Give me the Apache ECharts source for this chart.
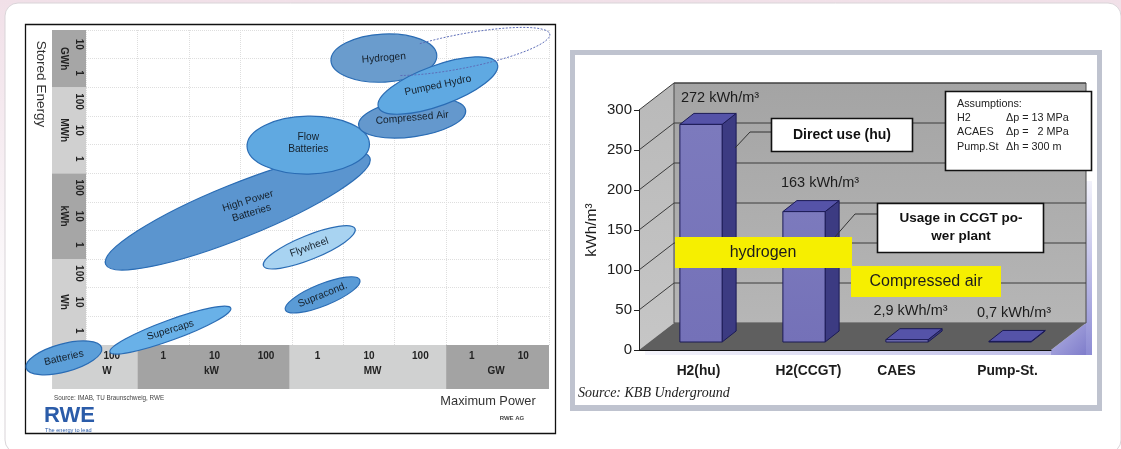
<!DOCTYPE html>
<html>
<head>
<meta charset="utf-8">
<style>
  html, body { margin: 0; padding: 0; background: linear-gradient(#f1e0e8, #fbf8fa 60%, #ffffff); }
  #chart { width: 1121px; height: 449px; }
</style>
<script src="https://cdn.jsdelivr.net/npm/echarts@6/dist/echarts.min.js"></script>
</head>
<body>
<div id="chart"></div>
<script>
const FONT = '"Liberation Sans", Arial, sans-serif';

// left panel: power / energy map, positions in decade cells from bottom left
const powerTicks = ['100', '1', '10', '100', '1', '10', '100', '1', '10'];
const energyTicks = ['1', '10', '100', '1', '10', '100', '1', '10', '100', '1', '10'];
const powerBandNames = ['W', 'kW', 'MW', 'GW'];
const powerBandFrom = [-0.66, 1, 3.96, 7];
const powerBandTo = [1, 3.96, 7, 9];
const powerBandLabelAt = [0.41, 2.44, 5.57, 7.97];
const energyBandNames = ['Wh', 'kWh', 'MWh', 'GWh'];
const energyBandFrom = [0, 3, 6, 9];
const energyBandTo = [3, 6, 9, 11];

const storageNames = ['High Power\nBatteries', 'Flow\nBatteries', 'Hydrogen', 'Compressed Air', 'Pumped Hydro',
  'Flywheel', 'Supracond.', 'Supercaps', 'Batteries'];
const storagePower = [2.95, 4.32, 5.79, 6.34, 6.84, 4.34, 4.60, 1.64, -0.43];
const storageEnergy = [4.68, 6.98, 10.02, 7.93, 9.06, 3.41, 1.75, 0.52, -0.45];
const storageLength = [2.77, 1.19, 1.03, 1.05, 1.23, 0.96, 0.78, 1.25, 0.76];
const storageThick = [0.94, 1.01, 0.84, 0.66, 0.70, 0.42, 0.38, 0.35, 0.49];
const storageTilt = [22, 1, 3, 8, 20, 22, 22, 20, 15];
const storageTextTilt = [17, 0, 5, 5, 12, 20, 22, 17, 13];
const storageFill = ['#5b95cf', '#60a9e1', '#6a9ccd', '#6498cd', '#5fa9e2', '#a8d3f1', '#5a9bd6', '#69b1e8', '#5c9fd9'];

// right panel: volumetric energy density
const usageCategories = ['H2(hu)', 'H2(CCGT)', 'CAES', 'Pump-St.'];
const densityValues = [272, 163, 2.9, 0.7];
const densityLabels = ['272 kWh/m³', '163 kWh/m³', '2,9 kWh/m³', '0,7 kWh/m³'];
const densityTicks = [0, 50, 100, 150, 200, 250, 300];

// pseudo 3D look of the right panel, in pixels
const WALL_DX = 35, WALL_DY = -27;
const BAR_DX = 14, BAR_DY = -11, FLOOR_DX = 10.5, FLOOR_DY = -8;
const LABEL_SHIFT = [[19, -26], [16, -29], [3.5, -29], [4, -28]];
const CATEGORY_PAD = [16, 30, 0, 16];
// the High Power text sits up and right of its ellipse centre
const STORAGE_TEXT_SHIFT = [[12, -4], [0, -2], [0, 0], [0, 0], [0, 0], [0, 0], [0, 0], [0, 0], [0, 0]];

const chart = echarts.init(document.getElementById('chart'));

function poly(points, fill, stroke, lineWidth) {
  return { type: 'polygon', shape: { points }, style: { fill, stroke: stroke || 'none', lineWidth: lineWidth || 0 } };
}

function vGrad(top, bottom) {
  return new echarts.graphic.LinearGradient(0, 0, 0, 1, [
    { offset: 0, color: top }, { offset: 1, color: bottom }
  ]);
}

// grey scale strips under and left of the map
function renderBands(params, api) {
  const sx = api.size([1, 1]);
  const children = [];
  const cell = (x0, y0, x1, y1, fill) => {
    const a = api.coord([x0, y1]);
    const b = api.coord([x1, y0]);
    children.push({ type: 'rect', shape: { x: a[0], y: a[1], width: b[0] - a[0], height: b[1] - a[1] }, style: { fill } });
  };
  const h = -44 / sx[1];
  powerBandNames.forEach((n, i) => {
    cell(powerBandFrom[i], h, powerBandTo[i], 0, i % 2 ? '#a3a3a3' : '#d0d1d1');
    const p = api.coord([powerBandLabelAt[i], 0]);
    children.push({ type: 'text', style: { x: p[0], y: p[1] + 26, text: n, font: 'bold 10px ' + FONT, fill: '#222', align: 'center', verticalAlign: 'middle' } });
  });
  energyBandNames.forEach((n, i) => {
    const left = -34 / sx[0];
    cell(left, energyBandFrom[i], 0, energyBandTo[i], i % 2 ? '#a6a6a6' : '#d0d0d0');
    const p = api.coord([0, (energyBandFrom[i] + energyBandTo[i]) / 2]);
    children.push({ type: 'text', rotation: -Math.PI / 2, x: p[0] - 22, y: p[1], style: { x: 0, y: 0, text: n, font: 'bold 10px ' + FONT, fill: '#222', align: 'center', verticalAlign: 'middle' } });
  });
  return { type: 'group', children };
}

function renderStorage(params, api) {
  const c = api.coord([api.value(0), api.value(1)]);
  const size = api.size([1, 1]);
  const i = params.dataIndex;
  return {
    type: 'group',
    children: [
      {
        type: 'ellipse',
        x: c[0], y: c[1],
        rotation: storageTilt[i] * Math.PI / 180,
        shape: { cx: 0, cy: 0, rx: api.value(2) * size[0], ry: api.value(3) * size[1] },
        style: { fill: storageFill[i], stroke: '#2a6cb4', lineWidth: 1.2 }
      },
      {
        type: 'text',
        x: c[0] + STORAGE_TEXT_SHIFT[i][0], y: c[1] + STORAGE_TEXT_SHIFT[i][1],
        rotation: storageTextTilt[i] * Math.PI / 180,
        style: { x: 0, y: 0, text: storageNames[i], font: '10.2px ' + FONT, fill: '#15202b', align: 'center', verticalAlign: 'middle', lineHeight: 12.5 }
      }
    ]
  };
}

// the dashed outline that runs out from Hydrogen to the top right corner
function renderDashedReach(params, api) {
  const c = api.coord([7.28, 10.25]);
  const tilt = -11 * Math.PI / 180;
  const pts = [];
  for (let a = -115; a <= 135; a += 5) {
    const t = a * Math.PI / 180;
    const ex = 91 * Math.cos(t), ey = 17 * Math.sin(t);
    pts.push([c[0] + ex * Math.cos(tilt) - ey * Math.sin(tilt), c[1] + ex * Math.sin(tilt) + ey * Math.cos(tilt)]);
  }
  return { type: 'polyline', shape: { points: pts }, style: { stroke: '#5d6db8', lineWidth: 1, lineDash: [2, 1.5], fill: 'none' } };
}

// side wall, back wall, floor and the lilac rim behind them
function renderWalls(params, api) {
  const g = params.coordSys;
  const left = g.x, right = g.x + g.width, top = g.y, bottom = g.y + g.height;
  const children = [
    poly([[left + 6, bottom + 1], [right + WALL_DX + 6, bottom + 1], [right + WALL_DX + 6, bottom + 5], [left + 6, bottom + 5]],
      new echarts.graphic.LinearGradient(0, 0, 1, 0, [{ offset: 0, color: '#f4f4fb' }, { offset: 1, color: '#b9b8e6' }])),
    poly([[right + WALL_DX, top + WALL_DY + 98], [right + WALL_DX + 6, top + WALL_DY + 98], [right + WALL_DX + 6, bottom + 5], [right + WALL_DX, bottom + 5]],
      vGrad('#f2f2fb', '#8d8cd4')),
    poly([[right, bottom], [right + WALL_DX, bottom + WALL_DY], [right + WALL_DX, bottom + 5], [right, bottom + 5]],
      new echarts.graphic.LinearGradient(0, 0, 1, 1, [{ offset: 0, color: '#b4b3e3' }, { offset: 1, color: '#7f7dcb' }])),
    poly([[left, top], [left + WALL_DX, top + WALL_DY], [left + WALL_DX, bottom + WALL_DY], [left, bottom]], vGrad('#b9b9b9', '#c6c6c6')),
    poly([[left + WALL_DX, top + WALL_DY], [right + WALL_DX, top + WALL_DY], [right + WALL_DX, bottom + WALL_DY], [left + WALL_DX, bottom + WALL_DY]],
      vGrad('#a4a4a4', '#b6b6b6'), '#4a4a4a', 1),
    poly([[left, bottom], [left + WALL_DX, bottom + WALL_DY], [right + WALL_DX, bottom + WALL_DY], [right, bottom]], '#5f5f5f')
  ];
  densityTicks.forEach(v => {
    const y = api.coord([0, v])[1];
    const line = points => ({ type: 'polyline', shape: { points }, style: { stroke: '#3c3c3c', lineWidth: 1, fill: 'none' } });
    if (v > 0) children.push(line([[left, y], [left + WALL_DX, y + WALL_DY], [right + WALL_DX, y + WALL_DY]]));
  });
  return { type: 'group', children };
}

function renderBar(params, api) {
  const i = params.dataIndex;
  const c = api.coord([api.value(0), api.value(1)]);
  const base = api.coord([api.value(0), 0]);
  const half = api.size([1, 0])[0] * 0.205;
  const l = c[0] - half + FLOOR_DX, r = c[0] + half + FLOOR_DX;
  const t = c[1] + FLOOR_DY, b = base[1] + FLOOR_DY;
  const edge = '#1b1a55';
  return {
    type: 'group',
    children: [
      poly([[r, t], [r + BAR_DX, t + BAR_DY], [r + BAR_DX, b + BAR_DY], [r, b]], '#3c3b82', edge, 1),
      poly([[l, t], [r, t], [r + BAR_DX, t + BAR_DY], [l + BAR_DX, t + BAR_DY]], '#5553a8', edge, 1),
      poly([[l, t], [r, t], [r, b], [l, b]], vGrad('#7c7abd', '#7471b8'), edge, 1),
      {
        type: 'text',
        style: {
          x: (l + r) / 2 + LABEL_SHIFT[i][0], y: t + LABEL_SHIFT[i][1], text: densityLabels[i],
          font: '14.5px ' + FONT, fill: '#1c1c1c', align: 'center', verticalAlign: 'middle'
        }
      }
    ]
  };
}

// boxes and captions that belong to the pictures, not to any data series
function box(x, y, w, h, fill, stroke, lineWidth) {
  return { type: 'rect', z: 100, shape: { x, y, width: w, height: h }, style: { fill, stroke: stroke || 'none', lineWidth: lineWidth || 0 } };
}
function label(x, y, text, font, fill, align, rotation) {
  return {
    type: 'text', z: 101, x, y, rotation: rotation || 0,
    style: { x: 0, y: 0, text, font, fill, align: align || 'left', verticalAlign: 'middle' }
  };
}
function leader(points) {
  return { type: 'polyline', z: 99, shape: { points }, style: { stroke: '#333', lineWidth: 1, fill: 'none' } };
}

const frames = [
  { type: 'rect', z: -10, shape: { x: 5, y: 3, width: 1116, height: 450, r: 13 }, style: { fill: '#fff', stroke: '#d9d4d8', lineWidth: 1 } },
  { type: 'rect', z: -9, shape: { x: 25.5, y: 24.5, width: 530, height: 409 }, style: { fill: '#fff', stroke: '#111', lineWidth: 1.3 } },
  { type: 'rect', z: -9, shape: { x: 570, y: 50, width: 532, height: 361 }, style: { fill: '#bfc3cf' } },
  { type: 'rect', z: -8, shape: { x: 575, y: 55, width: 522, height: 350 }, style: { fill: '#fff' } }
];

const captions = [
  label(41, 84, 'Stored Energy', '13.5px ' + FONT, '#333', 'center', -Math.PI / 2),
  label(488, 401, 'Maximum Power', '12.8px ' + FONT, '#333', 'center'),
  label(54, 398, 'Source: IMAB, TU Braunschweig, RWE', '6.3px ' + FONT, '#444'),
  label(512, 418, 'RWE AG', 'bold 6px ' + FONT, '#444', 'center'),
  label(44, 416, 'RWE', 'bold 22px ' + FONT, '#2b5ca9'),
  label(45, 430, 'The energy to lead', '5.6px ' + FONT, '#2b5ca9'),

  label(592, 230, 'kWh/m³', '15.5px ' + FONT, '#1c1c1c', 'center', Math.PI / 2),
  label(578, 393, 'Source: KBB Underground', 'italic 14px "Liberation Serif", serif', '#222'),

  leader([[735, 148], [750, 132], [771, 132]]),
  box(771.5, 118.5, 141, 33, '#fff', '#111', 1.6),
  label(842, 135, 'Direct use (hu)', 'bold 14px ' + FONT, '#111', 'center'),

  leader([[827, 246], [855, 214], [877, 214]]),
  box(877.5, 203.5, 166, 49, '#fff', '#111', 1.6),
  label(961, 218, 'Usage in CCGT po-', 'bold 13.5px ' + FONT, '#111', 'center'),
  label(961, 236, 'wer plant', 'bold 13.5px ' + FONT, '#111', 'center'),

  box(945.5, 91.5, 146, 79, '#fff', '#111', 1.6),
  label(957, 104, 'Assumptions:', '10.8px ' + FONT, '#222'),
  label(957, 118, 'H2', '10.8px ' + FONT, '#222'),
  label(957, 132, 'ACAES', '10.8px ' + FONT, '#222'),
  label(957, 147, 'Pump.St', '10.8px ' + FONT, '#222'),
  label(1006, 118, 'Δp = 13 MPa', '10.8px ' + FONT, '#222'),
  label(1006, 132, 'Δp =   2 MPa', '10.8px ' + FONT, '#222'),
  label(1006, 147, 'Δh = 300 m', '10.8px ' + FONT, '#222'),

  box(675, 237, 177, 31, '#f6ef00'),
  label(763, 253, 'hydrogen', '16px ' + FONT, '#1c1c1c', 'center'),
  box(851, 266, 150, 31, '#f6ef00'),
  label(926, 282, 'Compressed air', '16px ' + FONT, '#1c1c1c', 'center')
];

const storageData = storageNames.map((n, i) => [storagePower[i], storageEnergy[i], storageLength[i], storageThick[i]]);
const gridLine = { show: true, lineStyle: { color: '#dedede', type: 'dotted', width: 1 } };
const tickLabel = { color: '#222', fontFamily: FONT, fontWeight: 'bold', fontSize: 10 };

const option = {
  animation: false,
  backgroundColor: 'transparent',
  graphic: { elements: frames.concat(captions) },
  grid: [
    { left: 86, top: 30, width: 463, height: 315 },
    { left: 639, top: 110, width: 412, height: 240 }
  ],
  xAxis: [
    {
      gridIndex: 0, type: 'category', data: powerTicks, position: 'bottom', z: 3,
      axisLine: { show: false }, axisTick: { show: false },
      axisLabel: Object.assign({ margin: 6, interval: 0 }, tickLabel)
    },
    {
      gridIndex: 0, type: 'value', min: 0, max: 9, interval: 1, position: 'bottom',
      axisLine: { show: false }, axisTick: { show: false }, axisLabel: { show: false }, splitLine: gridLine
    },
    {
      gridIndex: 1, type: 'category', z: 3,
      data: usageCategories.map((value, i) => ({ value, textStyle: { padding: [0, 0, 0, CATEGORY_PAD[i]] } })),
      axisLine: { lineStyle: { color: '#111', width: 1 } },
      axisTick: { length: 5, lineStyle: { color: '#333' } },
      axisLabel: { margin: 14, fontFamily: FONT, fontWeight: 'bold', fontSize: 13.8, color: '#1c1c1c', interval: 0 }
    }
  ],
  yAxis: [
    {
      gridIndex: 0, type: 'category', data: energyTicks, position: 'left', z: 3,
      axisLine: { show: false }, axisTick: { show: false },
      axisLabel: Object.assign({ margin: 7, rotate: -90, interval: 0, align: 'center', verticalAlign: 'middle' }, tickLabel)
    },
    {
      gridIndex: 0, type: 'value', min: 0, max: 11, interval: 1, position: 'left',
      axisLine: { show: false }, axisTick: { show: false }, axisLabel: { show: false }, splitLine: gridLine
    },
    {
      gridIndex: 1, type: 'value', min: 0, max: 300, interval: 50, z: 3,
      axisLine: { show: true, lineStyle: { color: '#222', width: 1 } },
      axisTick: { show: true, length: 5, lineStyle: { color: '#222' } },
      axisLabel: { margin: 7, fontFamily: FONT, fontSize: 15, color: '#1c1c1c' },
      splitLine: { show: false }
    }
  ],
  series: [
    { type: 'custom', xAxisIndex: 1, yAxisIndex: 1, z: 1, silent: true, renderItem: renderBands, data: [[0, 0]] },
    { type: 'custom', xAxisIndex: 1, yAxisIndex: 1, z: 5, silent: true, renderItem: renderStorage, data: storageData,
      encode: { x: 0, y: 1 } },
    { type: 'custom', xAxisIndex: 1, yAxisIndex: 1, z: 6, silent: true, renderItem: renderDashedReach, data: [[0, 0]] },
    { type: 'custom', xAxisIndex: 2, yAxisIndex: 2, z: 1, silent: true, renderItem: renderWalls, data: [[0, 0]] },
    { type: 'custom', xAxisIndex: 2, yAxisIndex: 2, z: 5, silent: true, renderItem: renderBar,
      data: densityValues.map((v, i) => [i, v]), encode: { x: 0, y: 1 } }
  ]
};

chart.setOption(option);
</script>
</body>
</html>
